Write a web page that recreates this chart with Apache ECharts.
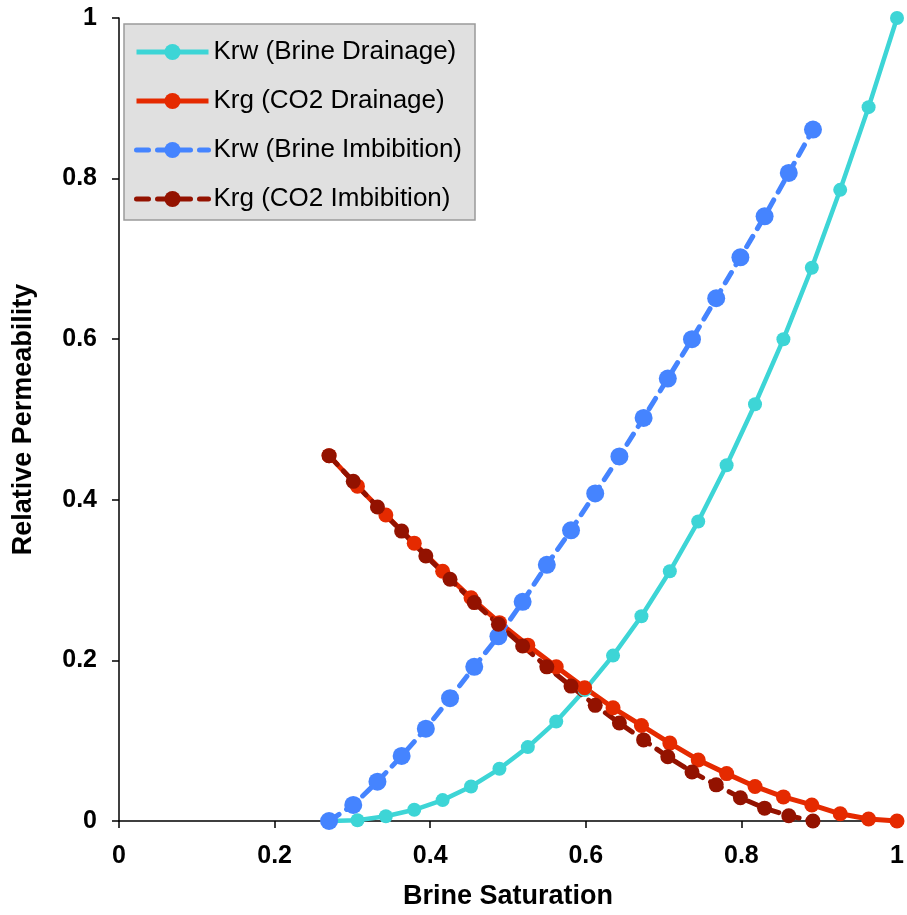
<!DOCTYPE html>
<html>
<head>
<meta charset="utf-8">
<script src="https://cdn.jsdelivr.net/npm/echarts@6/dist/echarts.min.js"></script>
<style>
  html, body { margin: 0; padding: 0; background: #fff; }
  #main { width: 907px; height: 915px; }
</style>
</head>
<body>
<div id="main"></div>
<script>
  // drainage points (21 steps from 0.27 to 1)
  var drainX = [0.27, 0.3065, 0.343, 0.3795, 0.416, 0.4525, 0.489, 0.5255, 0.562, 0.5985, 0.635,
    0.6715, 0.708, 0.7445, 0.781, 0.8175, 0.854, 0.8905, 0.927, 0.9635, 1.0];
  var krwDrain = [0, 0.001, 0.006, 0.014, 0.026, 0.043, 0.065, 0.092, 0.124, 0.163, 0.206,
    0.255, 0.311, 0.373, 0.443, 0.519, 0.600, 0.689, 0.786, 0.889, 1.0];
  var krgDrain = [0.455, 0.417, 0.381, 0.346, 0.311, 0.278, 0.247, 0.219, 0.192, 0.166, 0.141,
    0.119, 0.097, 0.076, 0.059, 0.043, 0.030, 0.020, 0.009, 0.0025, 0];
  // imbibition points (21 steps from 0.27 to ~0.892)
  var imbX = [0.27, 0.3011, 0.3322, 0.3633, 0.3944, 0.4255, 0.4566, 0.4877, 0.5188, 0.5499, 0.581,
    0.6121, 0.6432, 0.6743, 0.7054, 0.7365, 0.7676, 0.7987, 0.8298, 0.8609, 0.892];
  var krwImb = [0, 0.020, 0.049, 0.081, 0.115, 0.153, 0.192, 0.230, 0.273, 0.319, 0.362,
    0.408, 0.454, 0.502, 0.551, 0.600, 0.651, 0.702, 0.753, 0.807, 0.861];
  var krgImb = [0.455, 0.423, 0.391, 0.361, 0.330, 0.301, 0.272, 0.245, 0.218, 0.192, 0.168,
    0.144, 0.122, 0.101, 0.080, 0.061, 0.045, 0.029, 0.016, 0.0066, 0];

  function pairs(xs, ys) {
    return xs.map(function (x, i) { return [x, ys[i]]; });
  }

  var fam = '"Liberation Sans", Arial, sans-serif';
  var tickFont = { color: '#000', fontSize: 25, fontWeight: 'bold', fontFamily: fam };
  var titleFont = { color: '#000', fontSize: 27, fontWeight: 'bold', fontFamily: fam };

  var option = {
    animation: false,
    backgroundColor: '#fff',
    grid: { left: 119, right: 10, top: 18, bottom: 93 },
    legend: {
      orient: 'vertical',
      left: 124,
      top: 24,
      padding: [15, 13, 8, 10],
      itemWidth: 72,
      itemHeight: 20,
      itemGap: 23,
      backgroundColor: '#e0e0e0',
      borderColor: '#9a9a9a',
      borderWidth: 1.5,
      lineStyle: { width: 5, type: 'inherit' },
      textStyle: { color: '#000', fontSize: 26, fontFamily: fam }
    },
    xAxis: {
      type: 'value',
      min: 0, max: 1, interval: 0.2,
      name: 'Brine Saturation',
      nameLocation: 'middle',
      nameGap: 62,
      nameTextStyle: titleFont,
      axisLine: { lineStyle: { color: '#000', width: 1.5 } },
      axisTick: { inside: false, length: 7, lineStyle: { color: '#000', width: 1.5 } },
      axisLabel: Object.assign({ margin: 23 }, tickFont),
      splitLine: { show: false }
    },
    yAxis: {
      type: 'value',
      min: 0, max: 1, interval: 0.2,
      name: 'Relative Permeability',
      nameLocation: 'middle',
      nameGap: 82,
      nameTextStyle: titleFont,
      axisLine: { show: true, lineStyle: { color: '#000', width: 1.5 } },
      axisTick: { show: true, inside: false, length: 7, lineStyle: { color: '#000', width: 1.5 } },
      axisLabel: Object.assign({ margin: 22 }, tickFont),
      splitLine: { show: false }
    },
    series: [
      {
        name: 'Krw (Brine Drainage)',
        type: 'line',
        data: pairs(drainX, krwDrain),
        symbol: 'circle', symbolSize: 14,
        color: '#3dd5d6',
        lineStyle: { width: 4.5, color: '#3dd5d6' },
        itemStyle: { color: '#3dd5d6' }
      },
      {
        name: 'Krg (CO2 Drainage)',
        type: 'line',
        data: pairs(drainX, krgDrain),
        symbol: 'circle', symbolSize: 15,
        color: '#e52a00',
        lineStyle: { width: 5, color: '#e52a00' },
        itemStyle: { color: '#e52a00' }
      },
      {
        name: 'Krw (Brine Imbibition)',
        type: 'line',
        data: pairs(imbX, krwImb),
        symbol: 'circle', symbolSize: 18,
        color: '#4584ff',
        lineStyle: { width: 5, color: '#4584ff', type: [12, 9], cap: 'round' },
        itemStyle: { color: '#4584ff' }
      },
      {
        name: 'Krg (CO2 Imbibition)',
        type: 'line',
        data: pairs(imbX, krgImb),
        symbol: 'circle', symbolSize: 15,
        color: '#931200',
        lineStyle: { width: 5, color: '#931200', type: [12, 9], cap: 'round' },
        itemStyle: { color: '#931200' }
      }
    ]
  };

  echarts.init(document.getElementById('main')).setOption(option);
</script>
</body>
</html>
